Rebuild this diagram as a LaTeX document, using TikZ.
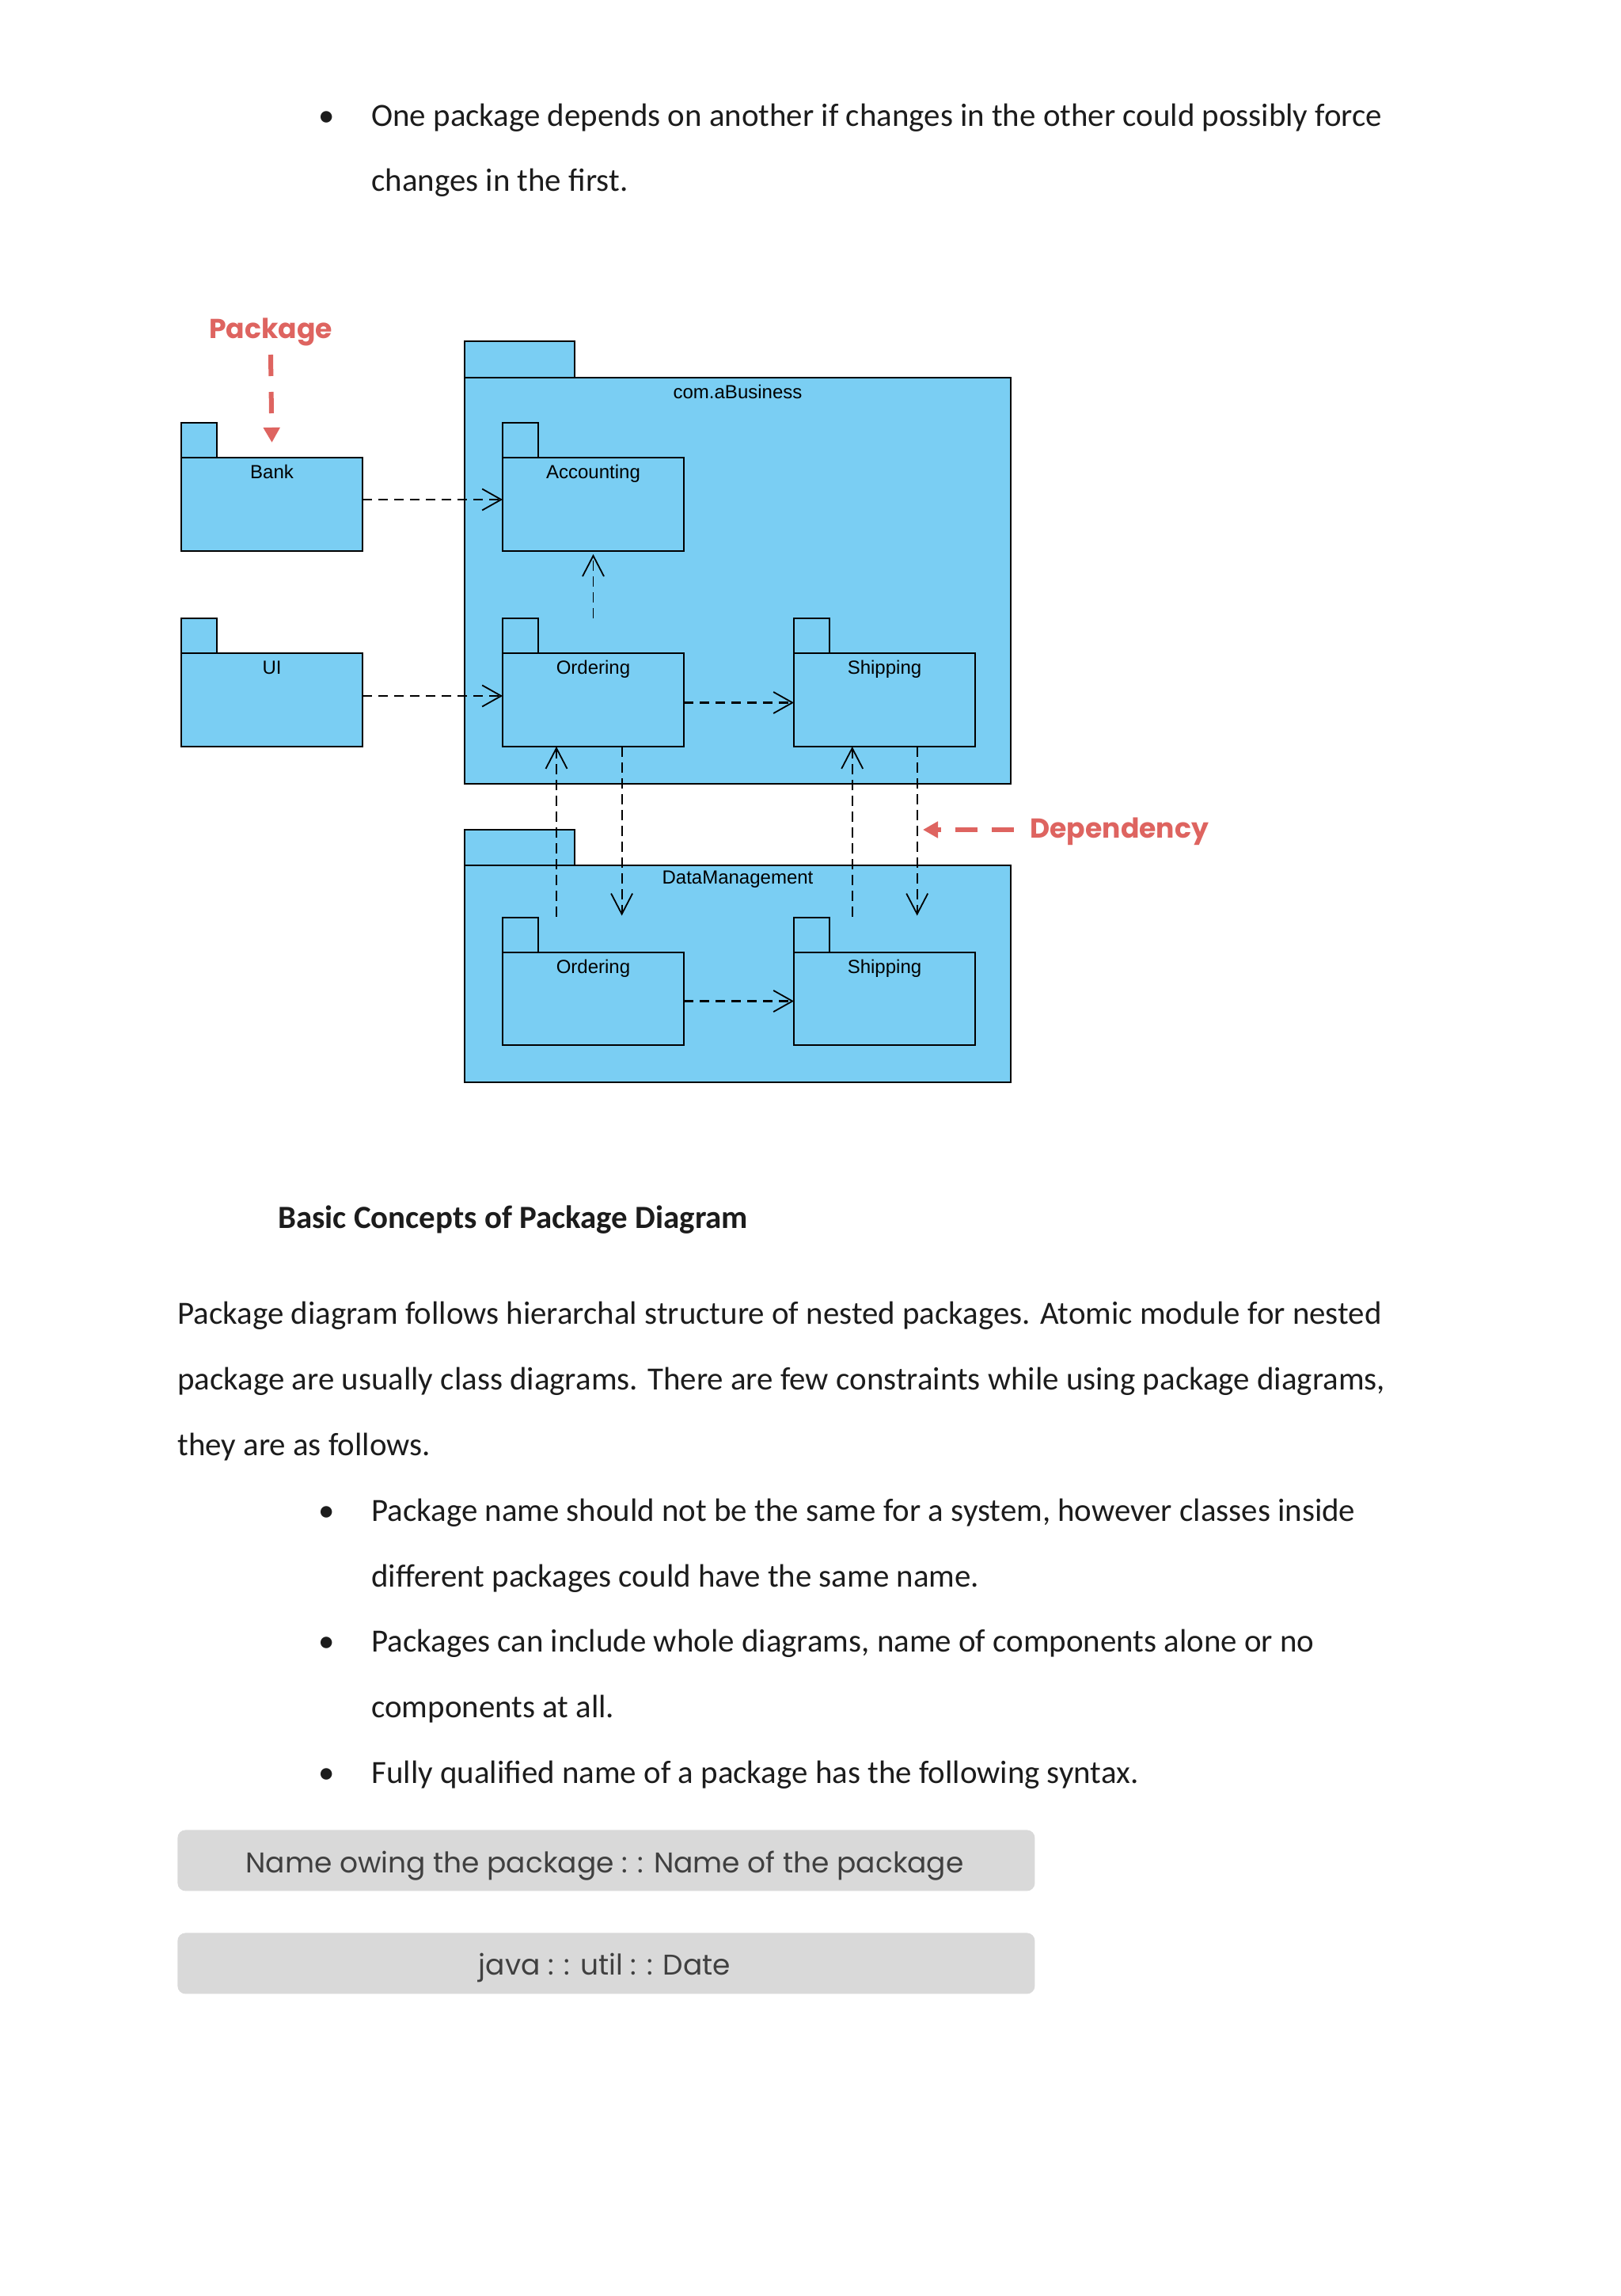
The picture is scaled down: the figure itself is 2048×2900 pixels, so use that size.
\documentclass[tikz,border=0pt]{standalone}
\usepackage{fontspec}
\setmainfont{Carlito}
\newfontfamily\diagfont{Liberation Sans}
\newfontfamily\popfont{Poppins}
\usetikzlibrary{arrows.meta,calc}
\definecolor{pkgblue}{RGB}{122,206,243}
\definecolor{redlbl}{RGB}{222,100,96}
\definecolor{bodytext}{RGB}{28,28,28}
\definecolor{boxgray}{RGB}{217,217,217}
\definecolor{boxtext}{RGB}{64,64,64}
\begin{document}
\begin{tikzpicture}[x=0.5pt,y=-0.5pt,
  pkgbox/.style={draw=black, line width=1.1pt, fill=pkgblue, inner sep=0pt, outer sep=0pt},
  pkglabel/.style={font=\diagfont\fontsize{12}{14}\selectfont, inner sep=0pt, anchor=base},
  deph/.style={draw=black, line width=1.2pt, dash pattern=on 6pt off 4pt,
     -{Straight Barb[length=12pt,width=13.5pt,line width=0.9pt]}},
  depv/.style={draw=black, line width=0.9pt, dash pattern=on 6.5pt off 3.5pt,
     -{Straight Barb[length=13pt,width=13.5pt,line width=0.9pt]}},
  redtxt/.style={font=\popfont\bfseries\fontsize{17.3}{20}\selectfont, text=redlbl, inner sep=0pt},
  redarrow/.style={draw=redlbl, line width=3pt, -{Triangle[length=9.5pt,width=10pt]}},
  bodytxt/.style={font=\fontsize{20.45}{24}\selectfont, text=bodytext, inner sep=0pt, anchor=base west},
  bullet/.style={font=\fontsize{20.45}{24}\selectfont, text=bodytext, inner sep=0pt, anchor=base},
  graybox/.style={fill=boxgray, rounded corners=5pt, inner sep=0pt, anchor=north west,
     minimum width=541.5pt, minimum height=38.5pt},
  graytxt/.style={font=\popfont\fontsize{18}{20}\selectfont, text=boxtext, inner sep=0pt, anchor=base}
]
\fill[white] (0,0) rectangle (2048,2900);
\useasboundingbox (0,0) rectangle (2048,2900);

% ---------- intro bullet ----------
\node[bullet] (b0) at (413,160) {•};
\node[bodytxt] (t0a) at (469,160) {One package depends on another if changes in the other could possibly force};
\node[bodytxt] (t0b) at (469,242) {changes in the first.};

% ---------- com.aBusiness ----------
\node[pkgbox, minimum width=345pt, minimum height=256.5pt, anchor=north west] (com) at (587,477) {};
\node[pkgbox, minimum width=69.5pt, minimum height=23pt, anchor=south west] (comTab) at (com.north west) {};
\node[pkglabel] (comLbl) at ($(com.north)+(0,26)$) {com.aBusiness};

% ---------- DataManagement ----------
\node[pkgbox, minimum width=345pt, minimum height=137pt, anchor=north west] (dm) at (587,1093) {};
\node[pkgbox, minimum width=69.5pt, minimum height=22.5pt, anchor=south west] (dmTab) at (dm.north west) {};
\node[pkglabel] (dmLbl) at ($(dm.north)+(0,23)$) {DataManagement};

% ---------- small packages ----------
\node[pkgbox, minimum width=114.5pt, minimum height=59pt, anchor=north west] (bank) at (229,578) {};
\node[pkgbox, minimum width=22.5pt, minimum height=22pt, anchor=south west] (bankTab) at (bank.north west) {};
\node[pkglabel] (bankLbl) at ($(bank.north)+(0,26)$) {Bank};

\node[pkgbox, minimum width=114.5pt, minimum height=59pt, anchor=north west] (ui) at (229,825) {};
\node[pkgbox, minimum width=22.5pt, minimum height=22pt, anchor=south west] (uiTab) at (ui.north west) {};
\node[pkglabel] (uiLbl) at ($(ui.north)+(0,26)$) {UI};

\node[pkgbox, minimum width=114.5pt, minimum height=59pt, anchor=north west] (acc) at (635,578) {};
\node[pkgbox, minimum width=22.5pt, minimum height=22pt, anchor=south west] (accTab) at (acc.north west) {};
\node[pkglabel] (accLbl) at ($(acc.north)+(0,26)$) {Accounting};

\node[pkgbox, minimum width=114.5pt, minimum height=59pt, anchor=north west] (ord) at (635,825) {};
\node[pkgbox, minimum width=22.5pt, minimum height=22pt, anchor=south west] (ordTab) at (ord.north west) {};
\node[pkglabel] (ordLbl) at ($(ord.north)+(0,26)$) {Ordering};

\node[pkgbox, minimum width=114.5pt, minimum height=59pt, anchor=north west] (ship) at (1003,825) {};
\node[pkgbox, minimum width=22.5pt, minimum height=22pt, anchor=south west] (shipTab) at (ship.north west) {};
\node[pkglabel] (shipLbl) at ($(ship.north)+(0,26)$) {Shipping};

\node[pkgbox, minimum width=114.5pt, minimum height=58.5pt, anchor=north west] (ordB) at (635,1203) {};
\node[pkgbox, minimum width=22.5pt, minimum height=22pt, anchor=south west] (ordBTab) at (ordB.north west) {};
\node[pkglabel] (ordBLbl) at ($(ordB.north)+(0,26)$) {Ordering};

\node[pkgbox, minimum width=114.5pt, minimum height=58.5pt, anchor=north west] (shipB) at (1003,1203) {};
\node[pkgbox, minimum width=22.5pt, minimum height=22pt, anchor=south west] (shipBTab) at (shipB.north west) {};
\node[pkglabel] (shipBLbl) at ($(shipB.north)+(0,26)$) {Shipping};

% ---------- dependencies ----------
\draw[deph] ([yshift=3pt]bank.east) -- ([yshift=3pt]acc.west);
\draw[deph] ([yshift=2.5pt]ui.east) -- ([yshift=2.5pt]ord.west);
\draw[deph] ([yshift=-1.75pt]ord.east) -- ([yshift=-1.75pt]ship.west);
\draw[deph] ([yshift=-1.5pt]ordB.east) -- ([yshift=-1.5pt]shipB.west);
\draw[depv] (ordTab.north -| ord.north) -- ([yshift=-2pt]acc.south);
\draw[depv] ($(ordB.north west)+(68,-45)$) -- ($(ord.south west)+(68,0)$);
\draw[depv] ($(ord.south west)+(150.6,0)$) -- ($(ordB.north west)+(150.6,-46.5)$);
\draw[depv] ($(shipB.north west)+(73.7,-45)$) -- ($(ship.south west)+(73.7,0)$);
\draw[depv] ($(ship.south west)+(155.7,0)$) -- ($(shipB.north west)+(155.7,-46.5)$);

% ---------- red annotations ----------
\node[redtxt, anchor=base] (pkgLbl) at (342,428) {Package};
\draw[redarrow, dash pattern=on 13.5pt off 10pt] ($(pkgLbl.base)+(0,20)$) -- ([yshift=9.5pt]bank.north);
\node[redtxt, anchor=base west] (depLbl) at (1301,1058) {Dependency};
\coordinate (depTip) at (1166,1048);
\draw[redarrow, dash pattern=on 14pt off 9pt] ($(depLbl.base west)+(-20,-10)$) -- (depTip);

% ---------- lower text ----------
\node[bodytxt, font=\bfseries\fontsize{20.45}{24}\selectfont] (head) at (351,1551) {Basic Concepts of Package Diagram};
\node[bodytxt] (p1) at (224,1672) {Package diagram follows hierarchal structure of nested packages. Atomic module for nested};
\node[bodytxt] (p2) at (224,1755) {package are usually class diagrams. There are few constraints while using package diagrams,};
\node[bodytxt] (p3) at (224,1838) {they are as follows.};

\node[bullet] (b1) at (413,1921) {•};
\node[bodytxt] (t1a) at (469,1921) {Package name should not be the same for a system, however classes inside};
\node[bodytxt] (t1b) at (469,2004) {different packages could have the same name.};
\node[bullet] (b2) at (413,2086) {•};
\node[bodytxt] (t2a) at (469,2086) {Packages can include whole diagrams, name of components alone or no};
\node[bodytxt] (t2b) at (469,2169) {components at all.};
\node[bullet] (b3) at (413,2252) {•};
\node[bodytxt] (t3a) at (469,2252) {Fully qualified name of a package has the following syntax.};

% ---------- syntax boxes ----------
\node[graybox] (syn1) at (224,2311) {};
\node[graytxt] (syn1t) at (764,2365) {Name owing the package : : Name of the package};
\node[graybox] (syn2) at (224,2441) {};
\node[graytxt] (syn2t) at (764,2494) {java : : util : : Date};
\end{tikzpicture}
\end{document}
